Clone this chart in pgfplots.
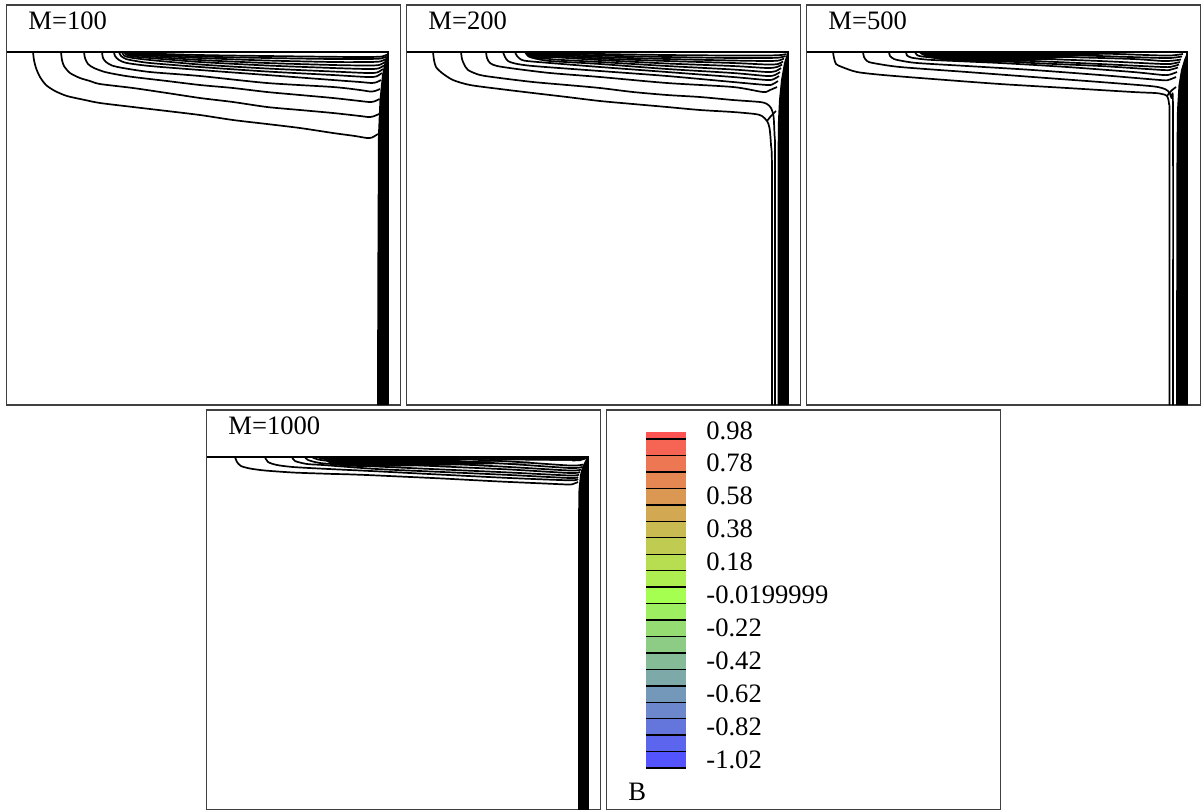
\documentclass[border=0pt]{standalone}
\usepackage{pgfplots}
\pgfplotsset{compat=1.18}
\usepackage{fontspec}
\setmainfont{Liberation Serif}
\definecolor{cTop}{RGB}{255,84,84}
\definecolor{cMid}{RGB}{165,255,80}
\definecolor{cBot}{RGB}{84,84,255}
\colorlet{b0}{cTop}
\colorlet{b1}{cMid!10!cTop}
\colorlet{b2}{cMid!20!cTop}
\colorlet{b3}{cMid!30!cTop}
\colorlet{b4}{cMid!40!cTop}
\colorlet{b5}{cMid!50!cTop}
\colorlet{b6}{cMid!60!cTop}
\colorlet{b7}{cMid!70!cTop}
\colorlet{b8}{cMid!80!cTop}
\colorlet{b9}{cMid!90!cTop}
\colorlet{b10}{cMid}
\colorlet{b11}{cBot!10!cMid}
\colorlet{b12}{cBot!20!cMid}
\colorlet{b13}{cBot!30!cMid}
\colorlet{b14}{cBot!40!cMid}
\colorlet{b15}{cBot!50!cMid}
\colorlet{b16}{cBot!60!cMid}
\colorlet{b17}{cBot!70!cMid}
\colorlet{b18}{cBot!80!cMid}
\colorlet{b19}{cBot!90!cMid}
\colorlet{b20}{cBot}
\pgfplotsset{
  panel/.style={x=0.5pt, y=0.5pt, y dir=reverse, xmin=6.5, xmax=400.5, ymin=5, ymax=405,
    axis line style={draw=black!75, line width=0.75pt}, ticks=none, anchor=north west},
  cl/.style={black, line width=0.85pt, line join=round, smooth, tension=0.45},
  wall/.style={black, line width=1pt},
  band/.style={fill=black, draw=none},
  bar/.style={draw=none},
}
\newcommand{\ttl}{\fontsize{13.3}{15}\selectfont}
\begin{document}
\begin{tikzpicture}
\useasboundingbox (0,0) rectangle (601pt,-404.5pt);
% ---------------- M=100
\begin{axis}[panel, at={(3.25pt,-2.5pt)}]
\addplot[band] coordinates {(377,405) (377.5,250) (378,135) (379.5,100) (382,75) (385,60) (387,55) (388,53) (388,405)};
\addplot[cl] coordinates {(33,52) (34,60) (36,68) (40,77) (46,85) (55,91) (67,96) (85,100) (100,103) (133,107) (167,111) (200,115) (233,120) (267,124) (300,128) (333,133) (355,136) (367,138) (372,137.5) (378,134)};
\addplot[cl] coordinates {(61,52) (62,60) (64,66) (70,73) (80,78) (90,81) (100,84) (133,88) (167,93) (200,98) (233,102) (267,107) (300,110) (333,113) (360,116) (368,117) (373,116.5) (379,114)};
\addplot[cl] coordinates {(84,52) (85,58) (88,64) (94,68) (105,72) (120,75) (133,77) (167,81) (200,85) (233,88) (267,92) (300,95) (333,98) (360,101) (369,102) (374,101.5) (379.5,99)};
\addplot[cl] coordinates {(102,52) (103,58) (106,62) (112,65.5) (123,68) (150,72) (200,76) (267,83) (333,87) (360,90) (370,91.5) (375,91) (380,89)};
\addplot[cl] coordinates {(114,52) (115,56) (119,60) (127,63) (150,66) (200,70) (267,75) (333,80) (360,82) (372,83) (377,82) (381,80)};
\addplot[cl] coordinates {(119,52) (121,56) (126,59) (133,60.5) (150,63) (200,67) (267,71.5) (333,75) (367,77) (376,76.5) (382,73)};
\addplot[cl] coordinates {(122,52) (124,55.5) (130,57.5) (150,60) (200,64.5) (267,68.5) (333,71.5) (367,73) (377,72.5) (383,69)};
\addplot[cl] coordinates {(124,52) (127,55) (133,56.5) (150,58) (200,62) (267,65.5) (333,68) (367,69) (378,68.5) (384,65.5)};
\addplot[cl] coordinates {(126,52) (129,54.5) (137,55.5) (150,56.5) (200,60) (267,63) (333,65) (367,65.5) (379,65) (385,62)};
\addplot[cl] coordinates {(128,52) (132,54) (145,55) (200,58) (267,60.5) (333,62) (367,62) (380,61.5) (386,59)};
\addplot[cl] coordinates {(130,52) (135,53.5) (150,54.2) (200,56.5) (267,58) (333,59) (367,59) (381,58.5) (386.5,56.5)};
\addplot[cl] coordinates {(132,52) (140,53.2) (200,55) (267,56) (333,56.8) (367,57) (382,56.5) (387,54.5)};
\addplot[wall] coordinates {(6.5,52) (388,52) (388,405)};
\node[anchor=base west, inner sep=0pt, font=\ttl] at (axis cs:28,29) {M=100};
\end{axis}
% ---------------- M=200
\begin{axis}[panel, at={(203.25pt,-2.5pt)}]
\addplot[band] coordinates {(377.5,405) (377.5,160) (378,120) (379,100) (381,80) (384,63) (386.5,55) (388,53) (388,405)};
\addplot[band] coordinates {(124,52) (128,56) (135,59) (145,59.5) (160,56) (175,53) (185,52)};
\addplot[cl] coordinates {(33,52) (34,60) (36,67) (42,73) (53,80) (70,85) (100,89) (133,93) (167,97) (200,101) (233,104) (267,107) (300,110) (333,112) (355,114) (362,116) (367,121) (369.5,128) (371,145) (372,175) (372,405)};
\addplot[cl] coordinates {(367,121) (371,116) (376,111)};
\addplot[cl] coordinates {(61,52) (62,59) (64,64) (68,70) (80,75) (100,78) (133,82) (167,85) (200,88) (233,92) (267,95) (300,97) (333,100) (360,102) (367,104) (371,108) (373.5,116) (374.5,135) (375,160) (375,405)};
\addplot[cl] coordinates {(86,52) (87,58) (90,63) (97,66) (117,69) (150,73) (200,77) (267,83) (333,87) (363,92) (370,90) (377,87)};
\addplot[cl] coordinates {(103,52) (105,57) (108,61) (115,63.5) (133,66) (200,71) (267,76) (333,82) (367,85) (373,84) (378,81)};
\addplot[cl] coordinates {(115,52) (117,56) (121,59.5) (127,61) (150,63) (200,67) (267,72) (333,77) (367,80) (374,79) (379,76)};
\addplot[cl] coordinates {(125,52) (128,56) (133,58) (150,61) (200,64) (267,69) (333,73) (367,76) (375,75) (380,72)};
\addplot[cl] coordinates {(128,52) (132,55.5) (140,57.5) (155,59.5) (200,62) (267,66) (333,69.5) (367,72) (376,71) (381,68)};
\addplot[cl] coordinates {(131,52) (136,55) (145,56.5) (200,60) (267,63.5) (333,66) (367,68) (377,67) (382,64.5)};
\addplot[cl] coordinates {(134,52) (140,54.5) (150,55.5) (200,58.5) (267,61) (333,63) (367,64.5) (378,64) (383,61.5)};
\addplot[cl] coordinates {(137,52) (145,54) (200,57) (267,59) (333,60.5) (367,61) (379,60.5) (384,58.5)};
\addplot[cl] coordinates {(140,52) (150,53.5) (200,55.5) (267,57) (333,58) (367,58) (380,57.5) (385.5,56)};
\addplot[cl] coordinates {(143,52) (155,53) (200,54) (267,55) (333,55.5) (367,55.5) (381,55) (386.5,54)};
\addplot[wall] coordinates {(6.5,52) (388,52) (388,405)};
\node[anchor=base west, inner sep=0pt, font=\ttl] at (axis cs:28,29) {M=200};
\end{axis}
% ---------------- M=500
\begin{axis}[panel, at={(403.25pt,-2.5pt)}]
\addplot[band] coordinates {(376,405) (376.5,150) (377,110) (378.5,85) (381,70) (384,60) (386,55) (387,53) (387,405)};
\addplot[band] coordinates {(118,52) (122,55) (130,58) (145,60.5) (170,62) (200,62.5) (225,61.5) (250,59) (280,56) (310,54) (340,52.5) (360,52)};
\addplot[cl] coordinates {(33,52) (34,58) (36,64) (42,67) (57,72) (83,75) (133,79) (200,84) (267,88) (333,92) (355,93) (362,94) (367,96) (369,104) (369.5,130) (369.5,405)};
\addplot[cl] coordinates {(367,96) (371,91) (376,87)};
\addplot[cl] coordinates {(63,52) (64,57) (67,61) (73,63) (100,67) (167,72) (233,77) (300,82) (350,86) (362,88) (368,91) (371.5,98) (373,115) (373,405)};
\addplot[cl] coordinates {(89,52) (90,56) (94,59) (100,60.5) (117,63) (167,66) (233,70) (300,75) (360,80) (368,80) (376,77)};
\addplot[cl] coordinates {(106,52) (107,55.5) (111,57.5) (117,58.5) (133,60) (200,63) (267,67) (333,72) (363,75) (370,74.5) (377,72)};
\addplot[cl] coordinates {(115,52) (117,55) (122,56.5) (140,58) (167,59) (233,63) (300,66) (363,70) (371,69.5) (378,67.5)};
\addplot[cl] coordinates {(125,52) (135,56) (160,58.5) (233,61) (300,64) (363,67) (372,66.5) (379,64.5)};
\addplot[cl] coordinates {(140,52) (170,56) (233,58.5) (300,61) (363,64) (373,63.5) (380,62)};
\addplot[cl] coordinates {(160,52) (200,55) (267,57) (333,59) (363,61) (374,60.5) (381,59.5)};
\addplot[cl] coordinates {(190,52) (233,54) (300,56) (363,58) (375,57.5) (382,56.5)};
\addplot[cl] coordinates {(230,52) (300,53.5) (363,55.5) (376,55) (383,54)};
\addplot[wall] coordinates {(6.5,52) (387,52) (387,405)};
\node[anchor=base west, inner sep=0pt, font=\ttl] at (axis cs:28,29) {M=500};
\end{axis}
% ---------------- M=1000
\begin{axis}[panel, at={(103.25pt,-205pt)}]
\addplot[band] coordinates {(378,405) (378,120) (378.5,85) (380,70) (382,62) (385,56) (387,53) (388,52) (388,405)};
\addplot[band] coordinates {(124,52) (126,56) (132,59.5) (145,61.5) (170,62) (200,61.5) (250,60.5) (300,59) (350,57.5) (380,56) (387,54) (388,52)};
\addplot[white, line width=0.6pt] coordinates {(260,55) (300,55.8) (345,56.3) (372,56.5)};
\addplot[white, line width=0.5pt] coordinates {(290,57.4) (330,57.4) (365,57.2)};
\addplot[cl] coordinates {(35,52) (37,57) (41,61) (50,63.5) (65,65.5) (93,67.5) (120,68.5) (135,69) (145,69.2) (167,70) (200,71.5) (243,73.5) (300,76.5) (345,78.5) (368,79.5) (373,79) (378,77)};
\addplot[cl] coordinates {(65,52) (68,57) (77,60) (93,62) (123,63.7) (177,66.3) (243,69.7) (310,73) (370,75.3) (378,74)};
\addplot[cl] coordinates {(92,52) (95,56) (107,59) (123,60) (177,64) (243,67) (310,70) (370,73) (378,72)};
\addplot[cl] coordinates {(105,52) (108,55) (120,58) (140,59.5) (177,61.5) (243,64.5) (310,67.5) (370,70.5) (379,69.5)};
\addplot[cl] coordinates {(112,52) (118,54.5) (135,56.5) (177,58.5) (243,61.5) (310,64.5) (370,68) (380,67)};
\addplot[cl] coordinates {(117,52) (125,54) (150,55) (200,56) (243,58.5) (310,62) (370,65.5) (381,64.5)};
\addplot[cl] coordinates {(121,52) (150,53) (243,55.5) (310,59) (370,63) (382,62)};
\addplot[cl] coordinates {(150,52) (243,53.5) (310,56.5) (370,60.5) (383,59.5)};
\addplot[wall] coordinates {(6.5,52) (388,52) (388,405)};
\node[anchor=base west, inner sep=0pt, font=\ttl] at (axis cs:28,29) {M=1000};
\end{axis}
% ---------------- legend
\begin{axis}[panel, at={(303.25pt,-205pt)}]
\addplot[fill=b0, bar] coordinates {(46,27) (86,27) (86,34) (46,34)};
\addplot[fill=b1, bar] coordinates {(46,34) (86,34) (86,50.5) (46,50.5)};
\addplot[fill=b2, bar] coordinates {(46,50.5) (86,50.5) (86,66.9) (46,66.9)};
\addplot[fill=b3, bar] coordinates {(46,66.9) (86,66.9) (86,83.4) (46,83.4)};
\addplot[fill=b4, bar] coordinates {(46,83.4) (86,83.4) (86,99.8) (46,99.8)};
\addplot[fill=b5, bar] coordinates {(46,99.8) (86,99.8) (86,116.3) (46,116.3)};
\addplot[fill=b6, bar] coordinates {(46,116.3) (86,116.3) (86,132.7) (46,132.7)};
\addplot[fill=b7, bar] coordinates {(46,132.7) (86,132.7) (86,149.2) (46,149.2)};
\addplot[fill=b8, bar] coordinates {(46,149.2) (86,149.2) (86,165.6) (46,165.6)};
\addplot[fill=b9, bar] coordinates {(46,165.6) (86,165.6) (86,182.1) (46,182.1)};
\addplot[fill=b10, bar] coordinates {(46,182.1) (86,182.1) (86,198.5) (46,198.5)};
\addplot[fill=b11, bar] coordinates {(46,198.5) (86,198.5) (86,215) (46,215)};
\addplot[fill=b12, bar] coordinates {(46,215) (86,215) (86,231.4) (46,231.4)};
\addplot[fill=b13, bar] coordinates {(46,231.4) (86,231.4) (86,247.9) (46,247.9)};
\addplot[fill=b14, bar] coordinates {(46,247.9) (86,247.9) (86,264.3) (46,264.3)};
\addplot[fill=b15, bar] coordinates {(46,264.3) (86,264.3) (86,280.8) (46,280.8)};
\addplot[fill=b16, bar] coordinates {(46,280.8) (86,280.8) (86,297.2) (46,297.2)};
\addplot[fill=b17, bar] coordinates {(46,297.2) (86,297.2) (86,313.7) (46,313.7)};
\addplot[fill=b18, bar] coordinates {(46,313.7) (86,313.7) (86,330.1) (46,330.1)};
\addplot[fill=b19, bar] coordinates {(46,330.1) (86,330.1) (86,346.6) (46,346.6)};
\addplot[fill=b20, bar] coordinates {(46,346.6) (86,346.6) (86,364) (46,364)};
\addplot[black, line width=0.7pt, unbounded coords=jump] coordinates {
 (46,34) (86,34) (66,nan) (46,50.5) (86,50.5) (66,nan) (46,66.9) (86,66.9) (66,nan)
 (46,83.4) (86,83.4) (66,nan) (46,99.8) (86,99.8) (66,nan) (46,116.3) (86,116.3) (66,nan)
 (46,132.7) (86,132.7) (66,nan) (46,149.2) (86,149.2) (66,nan) (46,165.6) (86,165.6) (66,nan)
 (46,182.1) (86,182.1) (66,nan) (46,198.5) (86,198.5) (66,nan) (46,215) (86,215) (66,nan)
 (46,231.4) (86,231.4) (66,nan) (46,247.9) (86,247.9) (66,nan) (46,264.3) (86,264.3) (66,nan)
 (46,280.8) (86,280.8) (66,nan) (46,297.2) (86,297.2) (66,nan) (46,313.7) (86,313.7) (66,nan)
 (46,330.1) (86,330.1) (66,nan) (46,346.6) (86,346.6) (66,nan) (46,363) (86,363)};
\node[anchor=base west, inner sep=0pt, font=\ttl] at (axis cs:106,34) {0.98};
\node[anchor=base west, inner sep=0pt, font=\ttl] at (axis cs:106,66.9) {0.78};
\node[anchor=base west, inner sep=0pt, font=\ttl] at (axis cs:106,99.8) {0.58};
\node[anchor=base west, inner sep=0pt, font=\ttl] at (axis cs:106,132.7) {0.38};
\node[anchor=base west, inner sep=0pt, font=\ttl] at (axis cs:106,165.6) {0.18};
\node[anchor=base west, inner sep=0pt, font=\ttl] at (axis cs:106,198.5) {-0.0199999};
\node[anchor=base west, inner sep=0pt, font=\ttl] at (axis cs:106,231.4) {-0.22};
\node[anchor=base west, inner sep=0pt, font=\ttl] at (axis cs:106,264.3) {-0.42};
\node[anchor=base west, inner sep=0pt, font=\ttl] at (axis cs:106,297.2) {-0.62};
\node[anchor=base west, inner sep=0pt, font=\ttl] at (axis cs:106,330.1) {-0.82};
\node[anchor=base west, inner sep=0pt, font=\ttl] at (axis cs:106,363) {-1.02};
\node[anchor=base west, inner sep=0pt, font=\ttl] at (axis cs:28,395) {B};
\end{axis}
\end{tikzpicture}
\end{document}
